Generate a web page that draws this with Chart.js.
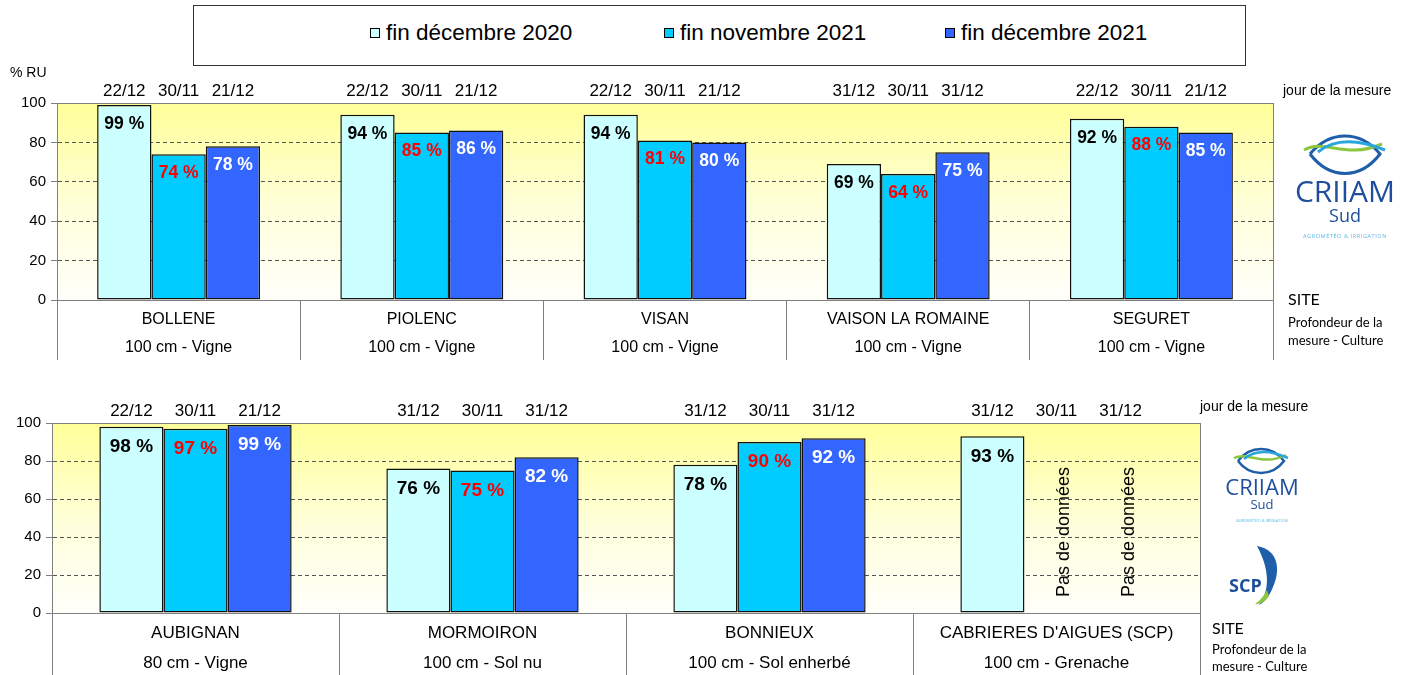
<!DOCTYPE html>
<html>
<head>
<meta charset="utf-8">
<script src="https://cdn.jsdelivr.net/npm/chart.js@4/dist/chart.umd.min.js"></script>
<style>
  body { margin: 0; background: #fff; width: 1424px; height: 675px; position: relative; overflow: hidden;
         font-family: "Liberation Sans", Arial, sans-serif; }
  .abs { position: absolute; white-space: nowrap; }
  #legendBox { position: absolute; left: 193px; top: 5px; width: 1051px; height: 59px; border: 1px solid #333; }
  .legItem { position: absolute; top: 14px; font-size: 22.5px; color: #000; }
  .legItem i { display: inline-block; width: 8px; height: 8px; border: 1px solid #000; margin-right: 6px; vertical-align: 2px; }
  .cal { font-family: Lato, "Open Sans", sans-serif; color: #000; }
  #top { position: absolute; left: 0; top: 0; }
  #bot { position: absolute; left: 0; top: 370px; }
</style>
</head>
<body>
<div id="legendBox">
  <div class="legItem" style="left:176px"><i style="background:#ccffff"></i>fin décembre 2020</div>
  <div class="legItem" style="left:470px"><i style="background:#00ccff"></i>fin novembre 2021</div>
  <div class="legItem" style="left:751px"><i style="background:#3366ff"></i>fin décembre 2021</div>
</div>
<canvas id="top" width="1424" height="370"></canvas>
<canvas id="bot" width="1424" height="305"></canvas>

<div class="abs" style="left:10px;top:64px;font-size:14px">% RU</div>
<div class="abs" style="left:1283px;top:82px;font-size:14px">jour de la mesure</div>
<div class="abs" style="left:1200px;top:398px;font-size:14px">jour de la mesure</div>

<div class="abs cal" style="left:1288px;top:289px;font-size:16px">SITE</div>
<div class="abs cal" style="left:1288px;top:313px;font-size:13px;line-height:18px">Profondeur de la<br>mesure - Culture</div>
<div class="abs cal" style="left:1212px;top:618px;font-size:16px">SITE</div>
<div class="abs cal" style="left:1212px;top:641px;font-size:13px;line-height:17px">Profondeur de la<br>mesure - Culture</div>

<svg class="abs" style="left:1290px;top:130px" width="115" height="115">
  <path d="M20 24 C40 0, 70 0, 90 24 C70 50, 40 50, 20 24" fill="none" stroke="#1f5ea8" stroke-width="3"/>
  <path d="M14 20 C35 8, 55 30, 92 14" fill="none" stroke="#8cc63f" stroke-width="3"/>
  <path d="M28 22 C45 8, 70 10, 95 20" fill="none" stroke="#2aa6de" stroke-width="3"/>
  <text x="55" y="72" text-anchor="middle" font-size="30" fill="#1f4f9c" font-family="Open Sans, sans-serif">CRIIAM</text>
  <text x="55" y="92" text-anchor="middle" font-size="18" fill="#1f4f9c" font-family="Open Sans, sans-serif">Sud</text>
  <text x="55" y="108" text-anchor="middle" font-size="5.5" fill="#5bb8e6" font-family="Open Sans, sans-serif" letter-spacing="0.6">AGROMÉTÉO &amp; IRRIGATION</text>
</svg>
<svg class="abs" style="left:1220px;top:445px" width="90" height="90">
  <path d="M18 16 C30 0, 52 0, 64 16 C52 32, 30 32, 18 16" fill="none" stroke="#1f5ea8" stroke-width="2.5"/>
  <path d="M14 13 C28 6, 42 22, 66 10" fill="none" stroke="#8cc63f" stroke-width="2.5"/>
  <path d="M24 14 C36 4, 52 6, 68 13" fill="none" stroke="#2aa6de" stroke-width="2.5"/>
  <text x="42" y="50" text-anchor="middle" font-size="22" fill="#1f4f9c" font-family="Open Sans, sans-serif">CRIIAM</text>
  <text x="42" y="64" text-anchor="middle" font-size="13" fill="#1f4f9c" font-family="Open Sans, sans-serif">Sud</text>
  <text x="42" y="77" text-anchor="middle" font-size="4" fill="#5bb8e6" font-family="Open Sans, sans-serif">AGROMÉTÉO &amp; IRRIGATION</text>
</svg>
<svg class="abs" style="left:1225px;top:542px" width="70" height="70">
  <path d="M32 4 C55 8, 55 30, 48 45 C44 55, 40 60, 34 63 C44 50, 46 30, 32 4" fill="#1f5ea8"/>
  <path d="M30 62 C36 58, 40 52, 42 48 L44 54 C40 60, 36 62, 30 62" fill="#8cc63f"/>
  <text x="4" y="50" font-size="18" font-weight="bold" fill="#1f4f9c" font-family="Open Sans, sans-serif">SCP</text>
</svg>

<script>
const FONT = '"Liberation Sans", Arial, sans-serif';

// haut
const topSites = ["BOLLENE", "PIOLENC", "VISAN", "VAISON LA ROMAINE", "SEGURET"];
const topCultures = ["100 cm - Vigne", "100 cm - Vigne", "100 cm - Vigne", "100 cm - Vigne", "100 cm - Vigne"];
const topDec2020 = [99, 94, 94, 69, 92];
const topNov2021 = [74, 85, 81, 64, 88];
const topDec2021 = [78, 86, 80, 75, 85];
const topDatesDec2020 = ["22/12", "22/12", "22/12", "31/12", "22/12"];
const topDatesNov2021 = ["30/11", "30/11", "30/11", "30/11", "30/11"];
const topDatesDec2021 = ["21/12", "21/12", "21/12", "31/12", "21/12"];

// bas
const botSites = ["AUBIGNAN", "MORMOIRON", "BONNIEUX", "CABRIERES D'AIGUES (SCP)"];
const botCultures = ["80 cm - Vigne", "100 cm - Sol nu", "100 cm - Sol enherbé", "100 cm - Grenache"];
const botDec2020 = [98, 76, 78, 93];
const botNov2021 = [97, 75, 90, null];
const botDec2021 = [99, 82, 92, null];
const botDatesDec2020 = ["22/12", "31/12", "31/12", "31/12"];
const botDatesNov2021 = ["30/11", "30/11", "30/11", "30/11"];
const botDatesDec2021 = ["21/12", "31/12", "31/12", "31/12"];

const yTicks = [0, 20, 40, 60, 80, 100];
const seriesColours = ["#ccffff", "#00ccff", "#3366ff"];
const labelColours = ["#000000", "#ff0000", "#ffffff"];
const NO_DATA = "Pas de données";

function panelPlugin(sites, cultures, dates, opts) {
  return {
    id: "panel",
    beforeDraw(chart) {
      const a = chart.chartArea, ctx = chart.ctx;
      const g = ctx.createLinearGradient(0, a.top, 0, a.bottom);
      g.addColorStop(0, "#ffff99");
      g.addColorStop(0.55, "#ffffdd");
      g.addColorStop(1, "#fffffa");
      ctx.save();
      ctx.fillStyle = g;
      ctx.fillRect(a.left, a.top, a.right - a.left, a.bottom - a.top);
      ctx.restore();
    },
    afterDraw(chart) {
      const a = chart.chartArea, ctx = chart.ctx;
      const x = chart.scales.x;
      ctx.save();
      ctx.strokeStyle = "#808080";
      ctx.lineWidth = 1;
      ctx.strokeRect(a.left + 0.5, a.top + 0.5, a.right - a.left, a.bottom - a.top);

      ctx.fillStyle = "#000";
      ctx.textAlign = "center";
      ctx.textBaseline = "middle";
      ctx.font = opts.catSize + "px " + FONT;
      sites.forEach((s, i) => {
        const cx = x.getPixelForValue(i);
        ctx.fillText(s, cx, a.bottom + 20);
        ctx.fillText(cultures[i], cx, a.bottom + opts.line2);
      });

      chart.data.datasets.forEach((ds, d) => {
        const meta = chart.getDatasetMeta(d);
        ds.data.forEach((v, i) => {
          const el = meta.data[i];
          const bx = el.x;
          ctx.font = "17px " + FONT;
          ctx.fillStyle = "#000";
          ctx.fillText(dates[d][i], bx, a.top - 12);
          if (v === null) {
            ctx.save();
            ctx.translate(bx + 8, a.bottom - 16);
            ctx.rotate(-Math.PI / 2);
            ctx.textAlign = "left";
            ctx.font = "18px " + FONT;
            ctx.fillText(NO_DATA, 0, 0);
            ctx.restore();
            return;
          }
          ctx.font = "bold " + opts.valSize + "px " + FONT;
          ctx.fillStyle = labelColours[d];
          ctx.fillText(v + " %", bx, el.y + opts.valOff);
        });
      });
      ctx.restore();
    }
  };
}

function makeChart(id, sites, cultures, series, dates, lay) {
  return new Chart(document.getElementById(id), {
    type: "bar",
    data: {
      labels: sites,
      datasets: series.map((s, d) => ({
        label: ["fin décembre 2020", "fin novembre 2021", "fin décembre 2021"][d],
        data: s,
        backgroundColor: seriesColours[d],
        borderColor: "#111",
        borderWidth: 1.5,
        borderSkipped: false,
        categoryPercentage: 0.67,
        barPercentage: 1.0
      }))
    },
    options: {
      responsive: false,
      animation: false,
      layout: { padding: { left: 0, right: lay.right, top: lay.top, bottom: lay.bottom } },
      plugins: { legend: { display: false }, tooltip: { enabled: false } },
      scales: {
        x: {
          ticks: { display: false },
          grid: { offset: true, drawOnChartArea: false, tickLength: lay.axisH, color: "#808080" },
          border: { color: "#808080" },
          afterFit: s => { s.height = lay.axisH; }
        },
        y: {
          min: 0, max: 100,
          afterBuildTicks: s => { s.ticks = yTicks.map(v => ({ value: v })); },
          ticks: { color: "#000", font: { family: FONT, size: 15 }, padding: 5 },
          grid: {
            color: c => (c.tick.value === 0 || c.tick.value === 100) ? "rgba(0,0,0,0)" : "#555",
            tickColor: "#808080",
            tickLength: 6
          },
          border: { color: "#808080", dash: [4, 3] },
          afterFit: s => { s.width = lay.left; }
        }
      }
    },
    plugins: [panelPlugin(sites, cultures, dates, lay)]
  });
}

makeChart("top", topSites, topCultures,
  [topDec2020, topNov2021, topDec2021],
  [topDatesDec2020, topDatesNov2021, topDatesDec2021],
  { left: 57, right: 151, top: 103, bottom: 10, axisH: 60, line2: 48, catSize: 16, valSize: 17.5, valOff: 19 });

makeChart("bot", botSites, botCultures,
  [botDec2020, botNov2021, botDec2021],
  [botDatesDec2020, botDatesNov2021, botDatesDec2021],
  { left: 52, right: 224, top: 53, bottom: 0, axisH: 62, line2: 50, catSize: 17, valSize: 19, valOff: 20 });
</script>
</body>
</html>
